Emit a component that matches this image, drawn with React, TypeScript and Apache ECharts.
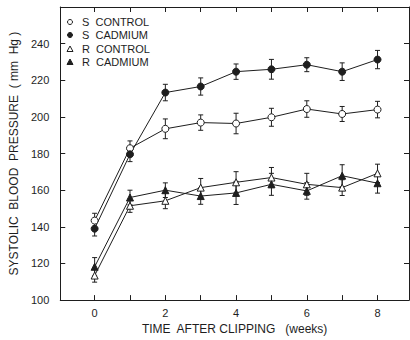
import React, { useEffect, useRef } from "react";
import * as echarts from "echarts";

const weeks = [0, 1, 2, 3, 4, 5, 6, 7, 8];
const xTickValues = [0, 1, 2, 3, 4, 5, 6, 7, 8];
const xLabelValues = [0, 2, 4, 6, 8];
const yLabelValues = [100, 120, 140, 160, 180, 200, 220, 240];
const legendNames = ["S  CONTROL", "S  CADMIUM", "R  CONTROL", "R  CADMIUM"];

const sControl = [143.4, 182.9, 193.5, 196.9, 196.4, 199.8, 204.3, 201.6, 204.0];
const sControlErr = [4.0, 4.0, 5.4, 4.2, 5.6, 4.9, 4.5, 4.1, 4.5];
const sCadmium = [139.0, 179.6, 213.3, 216.6, 224.7, 226.0, 228.5, 224.7, 231.3];
const sCadmiumErr = [4.0, 4.0, 4.5, 4.7, 4.2, 5.4, 3.8, 4.8, 5.0];
const rControl = [113.4, 151.5, 154.2, 161.4, 164.3, 166.9, 163.2, 161.4, 169.2];
const rControlErr = [3.6, 3.6, 4.3, 5.0, 5.8, 5.5, 6.0, 4.3, 5.0];
const rCadmium = [118.2, 156.0, 160.0, 156.8, 158.5, 163.2, 159.6, 167.9, 163.8];
const rCadmiumErr = [5.0, 4.0, 4.0, 4.5, 6.3, 6.0, 4.5, 6.0, 5.4];

const FONT = "Liberation Sans";
const INK = "#1e1e1e";

function errSeries(vals: number[], errs: number[], name: string) {
  return {
    type: "custom",
    name: name + " err",
    xAxisIndex: 0,
    yAxisIndex: 0,
    z: 2,
    silent: true,
    encode: { x: 0, y: 1 },
    data: weeks.map((w, i) => [w, vals[i], errs[i]]),
    renderItem: (params: any, api: any) => {
      const x = api.value(0);
      const y = api.value(1);
      const e = api.value(2);
      const top = api.coord([x, y + e]);
      const bot = api.coord([x, y - e]);
      const cap = 2.5;
      const style = { stroke: INK, lineWidth: 1 };
      return {
        type: "group",
        children: [
          { type: "line", shape: { x1: top[0], y1: top[1], x2: bot[0], y2: bot[1] }, style },
          { type: "line", shape: { x1: top[0] - cap, y1: top[1], x2: top[0] + cap, y2: top[1] }, style },
          { type: "line", shape: { x1: bot[0] - cap, y1: bot[1], x2: bot[0] + cap, y2: bot[1] }, style },
        ],
      };
    },
  };
}

function lineSeries(name: string, vals: number[], symbol: string, filled: boolean) {
  return {
    type: "line",
    name,
    xAxisIndex: 0,
    yAxisIndex: 0,
    z: 5,
    data: weeks.map((w, i) => [w, vals[i]]),
    symbol,
    symbolSize: 7,
    showAllSymbol: true,
    lineStyle: { color: INK, width: 1 },
    itemStyle: { color: filled ? INK : "#ffffff", borderColor: INK, borderWidth: 1 },
  };
}

function legendGraphic() {
  const rowsY = [22, 35, 49, 62];
  const sx = 70;
  const tx = 82;
  const children: any[] = [];
  legendNames.forEach((n, i) => {
    const y = rowsY[i];
    const filled = i === 1 || i === 3;
    const fill = filled ? INK : "#fff";
    if (i < 2) {
      children.push({ type: "circle", shape: { cx: sx, cy: y, r: 2.5 }, style: { fill, stroke: INK, lineWidth: 1 } });
    } else {
      children.push({
        type: "polygon",
        shape: { points: [[sx, y - 3], [sx + 3, y + 2.5], [sx - 3, y + 2.5]] },
        style: { fill, stroke: INK, lineWidth: 1 },
      });
    }
    children.push({
      type: "text",
      x: tx,
      y,
      style: { text: n, fontFamily: FONT, fontSize: 11, fill: INK, verticalAlign: "middle", align: "left" },
    });
  });
  return [{ type: "group", children }];
}

export default function App() {
  const ref = useRef<HTMLDivElement>(null);
  useEffect(() => {
    if (!ref.current) return;
    const chart = echarts.init(ref.current, undefined, { renderer: "svg" });
    const xMin = -0.972;
    const xMax = 8.89;
    const axisLineStyle = { onZero: false, lineStyle: { color: INK, width: 1 } };
    const tick = { show: true, inside: true, length: 5, lineStyle: { color: INK, width: 1 } };
    chart.setOption({
      animation: false,
      backgroundColor: "#ffffff",
      textStyle: { fontFamily: FONT },
      grid: { left: 54, right: 1, top: 7, bottom: 37 },
      graphic: legendGraphic(),
      xAxis: [
        {
          type: "value",
          min: xMin,
          max: xMax,
          position: "bottom",
          name: "TIME  AFTER CLIPPING   (weeks)",
          nameLocation: "middle",
          nameGap: 21,
          nameTextStyle: { fontFamily: FONT, fontSize: 12, color: INK },
          axisLine: { show: true, ...axisLineStyle },
          axisTick: { ...tick, customValues: xTickValues },
          axisLabel: { customValues: xLabelValues, fontFamily: FONT, fontSize: 11, color: INK, margin: 7 },
          splitLine: { show: false },
        },
        {
          type: "value",
          min: xMin,
          max: xMax,
          position: "top",
          axisLine: { show: true, ...axisLineStyle },
          axisTick: { ...tick, customValues: xTickValues },
          axisLabel: { show: false },
          splitLine: { show: false },
        },
      ],
      yAxis: [
        {
          type: "value",
          min: 100,
          max: 260,
          interval: 20,
          position: "left",
          name: "SYSTOLIC  BLOOD  PRESSURE  ( mm  Hg )",
          nameLocation: "middle",
          nameRotate: 90,
          nameGap: 35,
          nameTextStyle: { fontFamily: FONT, fontSize: 12, color: INK },
          axisLine: { show: true, ...axisLineStyle },
          axisTick: { ...tick, customValues: yLabelValues },
          axisLabel: { customValues: yLabelValues, fontFamily: FONT, fontSize: 11, color: INK, margin: 11 },
          splitLine: { show: false },
        },
        {
          type: "value",
          min: 100,
          max: 260,
          interval: 20,
          position: "right",
          axisLine: { show: true, ...axisLineStyle },
          axisTick: { ...tick, customValues: yLabelValues },
          axisLabel: { show: false },
          splitLine: { show: false },
        },
      ],
      series: [
        errSeries(sControl, sControlErr, "S  CONTROL"),
        errSeries(sCadmium, sCadmiumErr, "S  CADMIUM"),
        errSeries(rControl, rControlErr, "R  CONTROL"),
        errSeries(rCadmium, rCadmiumErr, "R  CADMIUM"),
        lineSeries("S  CONTROL", sControl, "circle", false),
        lineSeries("S  CADMIUM", sCadmium, "circle", true),
        lineSeries("R  CONTROL", rControl, "triangle", false),
        lineSeries("R  CADMIUM", rCadmium, "triangle", true),
      ],
    });
    return () => chart.dispose();
  }, []);
  return (
    <div
      ref={ref}
      style={{ position: "absolute", left: 0, top: 0, width: 410, height: 340, background: "#fff" }}
    />
  );
}
